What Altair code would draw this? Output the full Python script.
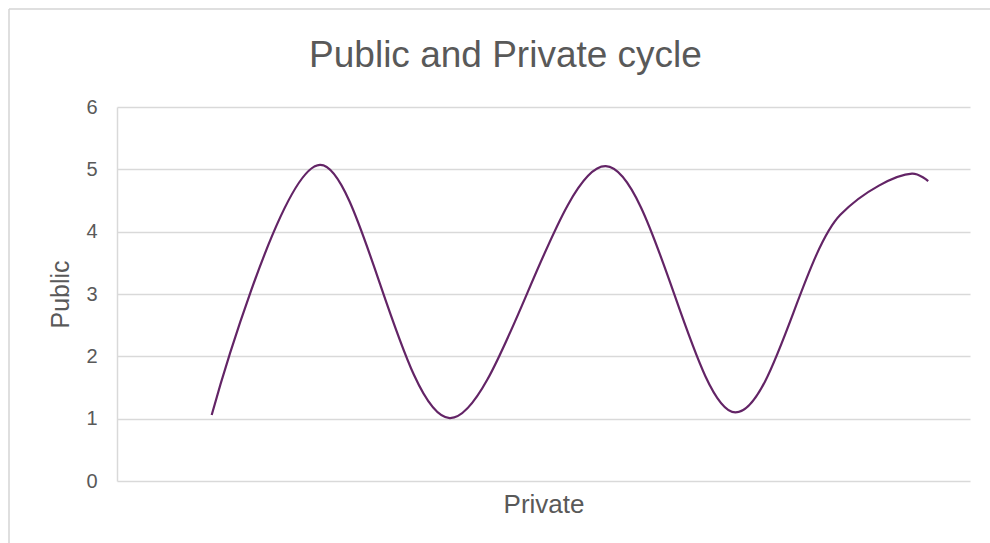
import altair as alt
import pandas as pd

# Data (x in arbitrary "Private" units, y = Public)
private = [11.1, 23.8, 39.0, 57.3, 72.5, 84.8, 93.2, 95.1]
public = [1.06, 5.07, 1.01, 5.05, 1.10, 4.27, 4.93, 4.81]
order = list(range(len(private)))
y_ticks = [0, 1, 2, 3, 4, 5, 6]

df = pd.DataFrame({"Private": private, "Public": public, "order": order})

line = alt.Chart(df).mark_line(
    interpolate="catmull-rom", color="#632466", strokeWidth=2.2
).encode(
    x=alt.X("Private:Q", scale=alt.Scale(domain=[0, 100], nice=False),
            axis=alt.Axis(labels=False, ticks=False, grid=False, domain=False,
                          title="Private", titleFontSize=26, titleColor="#595959",
                          titleFontWeight="normal", titleFont="Liberation Sans",
                          titlePadding=10)),
    y=alt.Y("Public:Q", scale=alt.Scale(domain=[0, 6], nice=False),
            axis=alt.Axis(values=y_ticks, ticks=False, labelOverlap=False,
                          labelFontSize=20, labelColor="#595959", labelFont="Liberation Sans",
                          labelPadding=20, gridColor="#d9d9d9", gridWidth=1.5,
                          domainColor="#d9d9d9", domainWidth=1.5,
                          title="Public", titleFontSize=25, titleColor="#595959",
                          titleFontWeight="normal", titleFont="Liberation Sans",
                          titlePadding=12)),
    order="order:O",
)

frame_df = pd.DataFrame({"a": [0]})
frame_top = alt.Chart(frame_df).mark_rule(color="#d4d4d4", strokeWidth=1.5).encode(
    x=alt.value(-108), x2=alt.value(880), y=alt.value(-98)
)
frame_left = alt.Chart(frame_df).mark_rule(color="#d4d4d4", strokeWidth=1.5).encode(
    x=alt.value(-108), y=alt.value(-98), y2=alt.value(440)
)

chart = alt.layer(frame_top, frame_left, line).properties(
    width=853,
    height=374,
    title=alt.TitleParams(
        "Public and Private cycle", fontSize=37, font="Liberation Sans",
        fontWeight="normal", color="#595959", anchor="middle", dx=-38,
        offset=-96, baseline="alphabetic",
    ),
    autosize=alt.AutoSizeParams(type="none"),
    padding={"left": 117, "top": 107, "right": 20, "bottom": 62},
    background="white",
).configure_view(strokeWidth=0)

chart.save("out.html", embed_options={"renderer": "svg", "actions": False})
